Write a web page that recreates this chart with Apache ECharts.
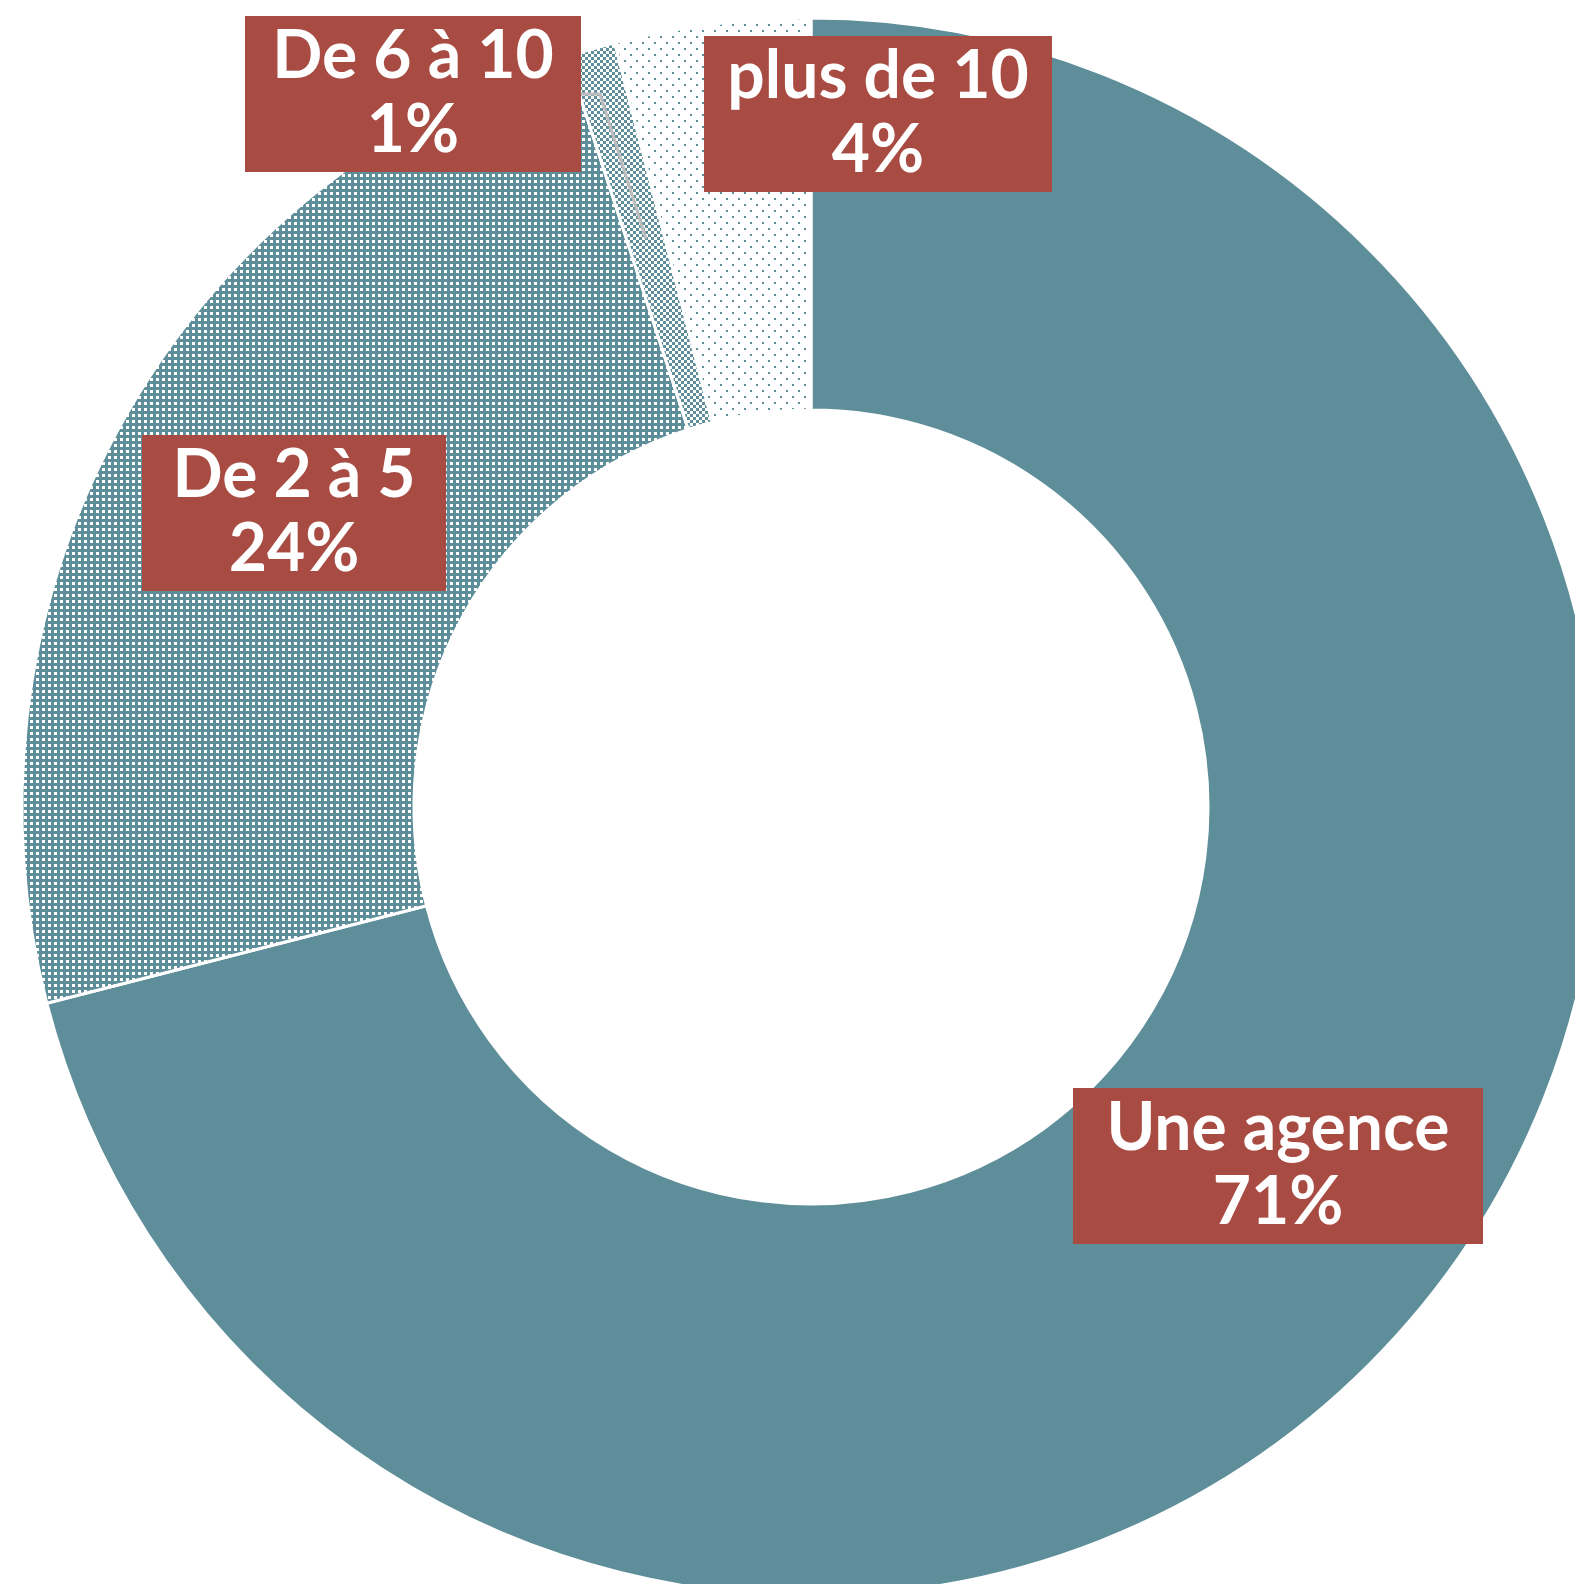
<!DOCTYPE html>
<html>
<head>
<meta charset="utf-8">
<script src="https://cdn.jsdelivr.net/npm/echarts@6/dist/echarts.min.js"></script>
<style>
  html, body { margin: 0; padding: 0; background: #fff; }
  #chart { width: 1575px; height: 1584px; }
</style>
</head>
<body>
<div id="chart"></div>
<script>
// nombre d'agences
const categories = ["Une agence", "De 2 à 5", "De 6 à 10", "plus de 10"];
const values = [71, 24, 1, 4];

const teal = "#5e8e99";
const red = "#a84b43";

// boites des étiquettes : centre x, centre y, largeur
const labelBoxes = [
  [1278, 1166, 410],
  [294, 513, 304],
  [413, 94, 336],
  [878, 114, 348],
];

const center = [811, 807];
const radius = [397, 789];

function pattern(size, bg, fg, cells) {
  const c = document.createElement("canvas");
  c.width = size;
  c.height = size;
  const ctx = c.getContext("2d");
  ctx.fillStyle = bg;
  ctx.fillRect(0, 0, size, size);
  ctx.fillStyle = fg;
  cells.forEach(([x, y, w]) => ctx.fillRect(x, y, w, w));
  return { image: c, repeat: "repeat" };
}

const fills = [
  teal,
  pattern(6, teal, "#fff", [[0, 0, 3]]),
  pattern(6, "#fff", teal, [[0, 0, 3], [3, 3, 3]]),
  pattern(12, "#fff", teal, [[0, 0, 2], [6, 6, 2]]),
];

const total = values.reduce((a, b) => a + b, 0);

// trait de rappel pour la petite part (De 6 à 10)
function leaderPoints(i) {
  let before = 0;
  for (let k = 0; k < i; k++) before += values[k];
  const mid = ((before + values[i] / 2) / total) * 2 * Math.PI;
  const r = radius[1] * 0.75;
  const sx = center[0] + r * Math.sin(mid);
  const sy = center[1] - r * Math.cos(mid);
  const [x, y, w] = labelBoxes[i];
  const right = x + w / 2;
  return [[sx, sy], [right + 19, y], [right, y]];
}

const chart = echarts.init(document.getElementById("chart"));
chart.setOption({
  animation: false,
  graphic: [
    {
      type: "polyline",
      z: 100,
      shape: { points: leaderPoints(2) },
      style: { stroke: "#bdbdbd", lineWidth: 3, fill: null },
    },
  ],
  series: [
    {
      type: "pie",
      center: center,
      radius: radius,
      startAngle: 90,
      clockwise: true,
      avoidLabelOverlap: false,
      itemStyle: { borderColor: "#fff", borderWidth: 3 },
      label: {
        position: "outside",
        formatter: (p) => p.name + "\n" + p.value + "%",
        color: "#fff",
        backgroundColor: red,
        fontFamily: "Lato",
        fontWeight: "bold",
        fontSize: 66,
        lineHeight: 74,
        padding: [4, 0],
        align: "center",
      },
      labelLine: { show: false },
      z: 2,
      data: categories.map((name, i) => ({
        name: name,
        value: values[i],
        itemStyle: { color: fills[i] },
        label: { width: labelBoxes[i][2] },
      })),
      labelLayout: function (params) {
        const [x, y] = labelBoxes[params.dataIndex];
        return { x: x, y: y, align: "center", verticalAlign: "middle" };
      },
    },
  ],
});
</script>
</body>
</html>
